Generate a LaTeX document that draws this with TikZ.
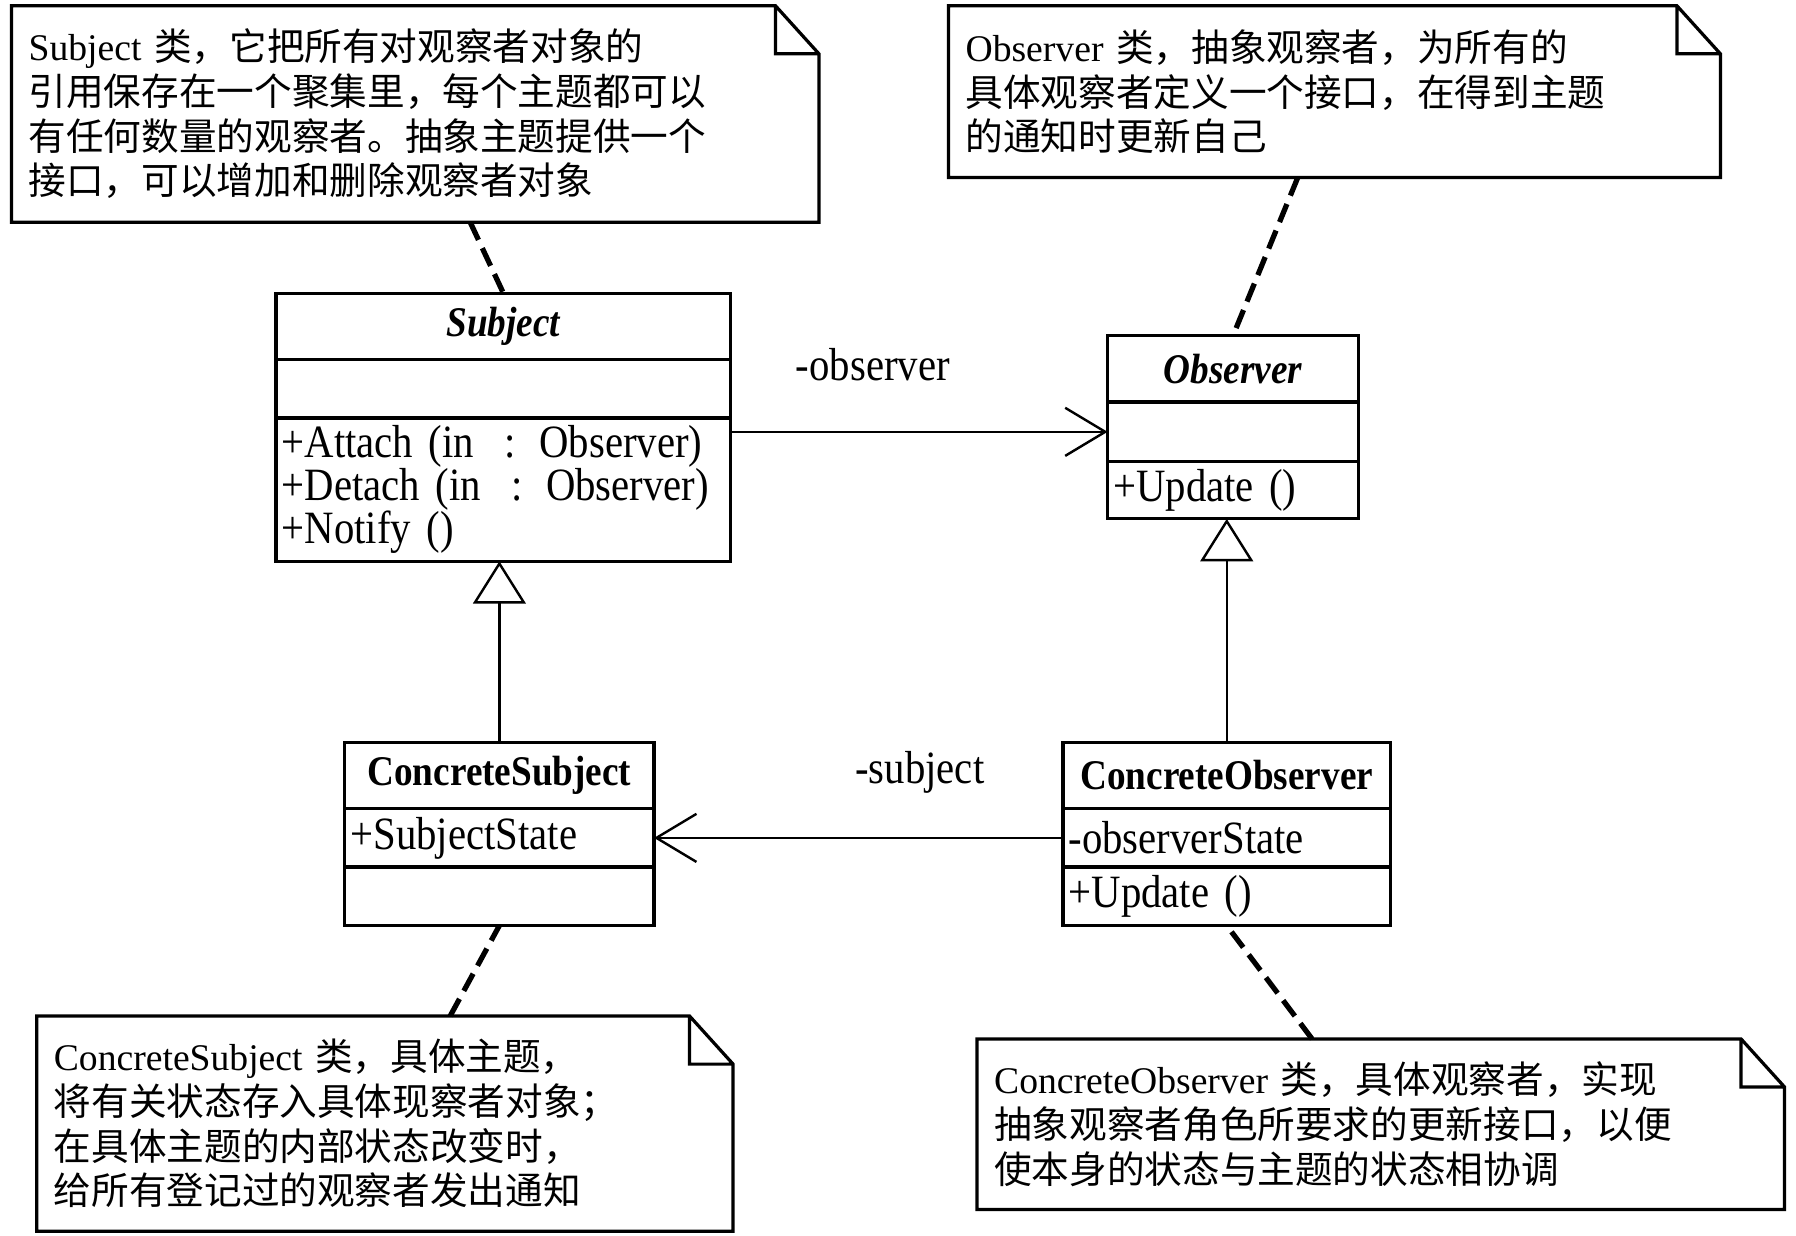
\documentclass[tikz,border=0pt]{standalone}
\usepackage{fontspec}
\setmainfont{Liberation Serif}
\newfontfamily\cjk{Noto Sans CJK SC}
\newfontfamily\umlfont{Liberation Serif}[FakeStretch=0.88]
\usetikzlibrary{positioning,arrows.meta}

\newcommand{\umlname}{\umlfont\bfseries\fontsize{10.5}{12}\selectfont}
\newcommand{\umlmember}{\umlfont\fontsize{11.5}{10.7}\selectfont}
\newcommand{\notetext}{\cjk\fontsize{9.35}{11.1}\selectfont}

\tikzset{
  classname/.style={draw, line width=0.8pt, minimum height=0.58cm, inner sep=0pt, outer sep=0pt, align=center, font=\umlname},
  classpart/.style={draw, line width=0.8pt, inner xsep=0.05cm, inner ysep=0pt, outer sep=0pt, align=left, font=\umlmember},
  note/.style={inner xsep=0.15cm, inner ysep=0pt, outer sep=0pt, align=left, anchor=north west, font=\notetext},
  notelink/.style={line width=1.3pt, dash pattern=on 0.17cm off 0.08cm},
  assoc/.style={-{Straight Barb[length=0.35cm,width=0.42cm]}, line width=0.6pt},
  inherit/.style={-{Triangle[open,length=0.37cm,width=0.46cm]}, line width=0.6pt},
}

\begin{document}
\begin{tikzpicture}[y=-1cm]
  \useasboundingbox (0,0) rectangle (15.68,10.79);

  % notes
  \node[note, text width=6.75cm, minimum height=1.89cm] (n1) at (0.10,0.05)
    {{\rmfamily Subject} 类，它把所有对观察者对象的\\引用保存在一个聚集里，每个主题都可以\\有任何数量的观察者。抽象主题提供一个\\接口，可以增加和删除观察者对象};
  \node[note, text width=6.44cm, minimum height=1.50cm] (n2) at (8.28,0.05)
    {{\rmfamily Observer} 类，抽象观察者，为所有的\\具体观察者定义一个接口，在得到主题\\的通知时更新自己};
  \node[note, text width=5.78cm, minimum height=1.88cm] (n3) at (0.32,8.87)
    {{\rmfamily ConcreteSubject} 类，具体主题，\\将有关状态存入具体现察者对象；\\在具体主题的内部状态改变时，\\给所有登记过的观察者发出通知};
  \node[note, text width=6.75cm, minimum height=1.49cm] (n4) at (8.53,9.07)
    {{\rmfamily ConcreteObserver} 类，具体观察者，实现\\抽象观察者角色所要求的更新接口，以便\\使本身的状态与主题的状态相协调};
  \foreach \n in {n1,n2,n3,n4}
    \draw[line width=0.8pt] (\n.north west) -- ([xshift=-0.38cm]\n.north east)
      -- ([yshift=-0.42cm]\n.north east) -- (\n.south east) -- (\n.south west) -- cycle
      ([xshift=-0.38cm]\n.north east) |- ([yshift=-0.42cm]\n.north east);

  % Subject
  \node[classname, text width=3.97cm, anchor=north west, font=\umlname\itshape] (subj) at (2.41,2.56) {Subject};
  \node[classpart, minimum width=3.97cm, minimum height=0.51cm, below=0pt of subj] (subja) {};
  \node[classpart, text width=3.87cm, minimum height=1.25cm, below=0pt of subja] (subjm)
    {+Attach (in\ \ : Observer)\\+Detach (in\ \ : Observer)\\+Notify ()};

  % Observer
  \node[classname, text width=2.19cm, anchor=north west, font=\umlname\itshape] (obs) at (9.67,2.93) {Observer};
  \node[classpart, minimum width=2.19cm, minimum height=0.52cm, below=0pt of obs] (obsa) {};
  \node[classpart, text width=2.09cm, minimum height=0.50cm, below=0pt of obsa] (obsm) {+Update ()};

  % ConcreteSubject
  \node[classname, text width=2.70cm, anchor=north west] (csubj) at (3.01,6.48) {ConcreteSubject};
  \node[classpart, text width=2.60cm, minimum height=0.51cm, below=0pt of csubj] (csubja) {+SubjectState};
  \node[classpart, minimum width=2.70cm, minimum height=0.51cm, below=0pt of csubja] (csubjm) {};

  % ConcreteObserver
  \node[classname, text width=2.86cm, anchor=north west] (cobs) at (9.28,6.48) {ConcreteObserver};
  \node[classpart, text width=2.76cm, minimum height=0.51cm, below=0pt of cobs] (cobsa) {-observerState};
  \node[classpart, text width=2.76cm, minimum height=0.51cm, below=0pt of cobsa] (cobsm) {+Update ()};

  % associations
  \draw[assoc] (subjm.east |- obsa.west) -- (obsa.west)
    node[pos=0.377, yshift=0.59cm, font=\umlmember] (lobs) {-observer};
  \draw[assoc] (cobsa.west) -- (csubja.east)
    node[pos=0.35, yshift=0.575cm, font=\umlmember] (lsubj) {-subject};

  % generalisation
  \draw[inherit] (csubj.north) -- (csubj.north |- subjm.south);
  \draw[inherit] (cobs.north) -- (cobs.north |- obsm.south);

  % note links
  \draw[notelink] ([xshift=0.48cm]n1.south) -- (subj.north);
  \draw[notelink] ([xshift=-0.32cm]n2.south) -- (obs.north);
  \draw[notelink] ([xshift=0.57cm]n3.north) -- (csubjm.south);
  \draw[notelink] ([xshift=-0.60cm]n4.north) -- (cobsm.south);
\end{tikzpicture}
\end{document}
